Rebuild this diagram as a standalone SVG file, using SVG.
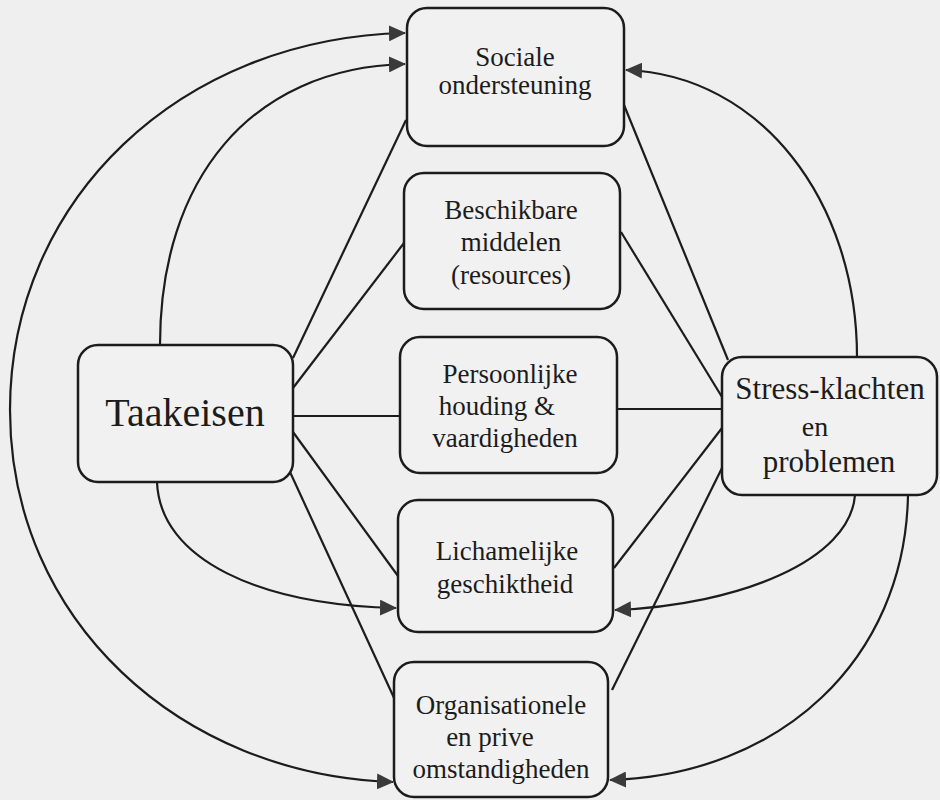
<svg xmlns="http://www.w3.org/2000/svg" width="940" height="800" viewBox="0 0 940 800">
<style>
.bg{fill:#efefef}
.box{fill:#f1f1f1;stroke:#1c1c1c;stroke-width:2.5}
.t{font-family:"Liberation Serif","Times New Roman",serif;fill:#1c1c1c;text-anchor:middle;font-size:27px}
.big{font-size:40px}
.mid{font-size:31px}
.sm{font-size:28px}
.c{fill:none;stroke:#1c1c1c;stroke-width:2.2}
.a{marker-end:url(#ah)}
.ab{marker-end:url(#ah);marker-start:url(#ah)}
</style>
<defs>
<marker id="ah" markerUnits="userSpaceOnUse" markerWidth="18" markerHeight="16" refX="16" refY="8" orient="auto-start-reverse" viewBox="0 0 18 16">
<path d="M0,0 L17,8 L0,16 Z" fill="#3a3a3a"/>
</marker>
</defs>
<rect class="bg" x="0" y="0" width="940" height="800"/>
<g id="connectors">
<path class="c ab" d="M393,782 C180,775 10,620 10,410 C10,200 180,38 405,33"/>
<path class="c a" d="M160,345 C160,180 250,68 405,64"/>
<path class="c a" d="M157,482 C160,560 260,605 396,608"/>
<path class="c a" d="M857,357 C857,200 760,75 626,70"/>
<path class="c a" d="M855,495 C850,560 740,605 615,610"/>
<path class="c a" d="M908,495 C905,660 780,775 610,780"/>
<line class="c" x1="293" y1="358" x2="406" y2="120"/>
<line class="c" x1="293" y1="388" x2="404" y2="243"/>
<line class="c" x1="293" y1="416" x2="400" y2="416"/>
<line class="c" x1="293" y1="432" x2="398" y2="576"/>
<line class="c" x1="290" y1="472" x2="395" y2="700"/>
<line class="c" x1="624" y1="105" x2="728" y2="360"/>
<line class="c" x1="621" y1="232" x2="722" y2="397"/>
<line class="c" x1="617" y1="409" x2="722" y2="409"/>
<line class="c" x1="722" y1="428" x2="614" y2="568"/>
<line class="c" x1="722" y1="468" x2="612" y2="690"/>
</g>
<g id="taakeisen">
<rect class="box" x="78" y="345" width="215" height="137" rx="20"/>
<text class="t big" x="185" y="426">Taakeisen</text>
</g>
<g id="sociale">
<rect class="box" x="407" y="8" width="217" height="138" rx="20"/>
<text class="t" x="515" y="66">Sociale</text>
<text class="t" x="515" y="94">ondersteuning</text>
</g>
<g id="beschikbare">
<rect class="box" x="404" y="173" width="216" height="136" rx="20"/>
<text class="t" x="511" y="219">Beschikbare</text>
<text class="t" x="511" y="251">middelen</text>
<text class="t" x="511" y="284">(resources)</text>
</g>
<g id="persoonlijke">
<rect class="box" x="400" y="337" width="217" height="136" rx="20"/>
<text class="t" x="510" y="383">Persoonlijke</text>
<text class="t" x="497" y="415">houding &amp;</text>
<text class="t" x="505" y="447">vaardigheden</text>
</g>
<g id="lichamelijke">
<rect class="box" x="398" y="500" width="215" height="132" rx="20"/>
<text class="t" x="507" y="560">Lichamelijke</text>
<text class="t" x="505" y="593">geschiktheid</text>
</g>
<g id="organisationele">
<rect class="box" x="394" y="662" width="214" height="135" rx="20"/>
<text class="t" x="501" y="714">Organisationele</text>
<text class="t" x="490" y="746">en prive</text>
<text class="t" x="501" y="778">omstandigheden</text>
</g>
<g id="stress">
<rect class="box" x="722" y="357" width="215" height="138" rx="20"/>
<text class="t mid" x="830" y="399">Stress-klachten</text>
<text class="t sm" x="815" y="436">en</text>
<text class="t mid" x="829" y="472">problemen</text>
</g>
</svg>
